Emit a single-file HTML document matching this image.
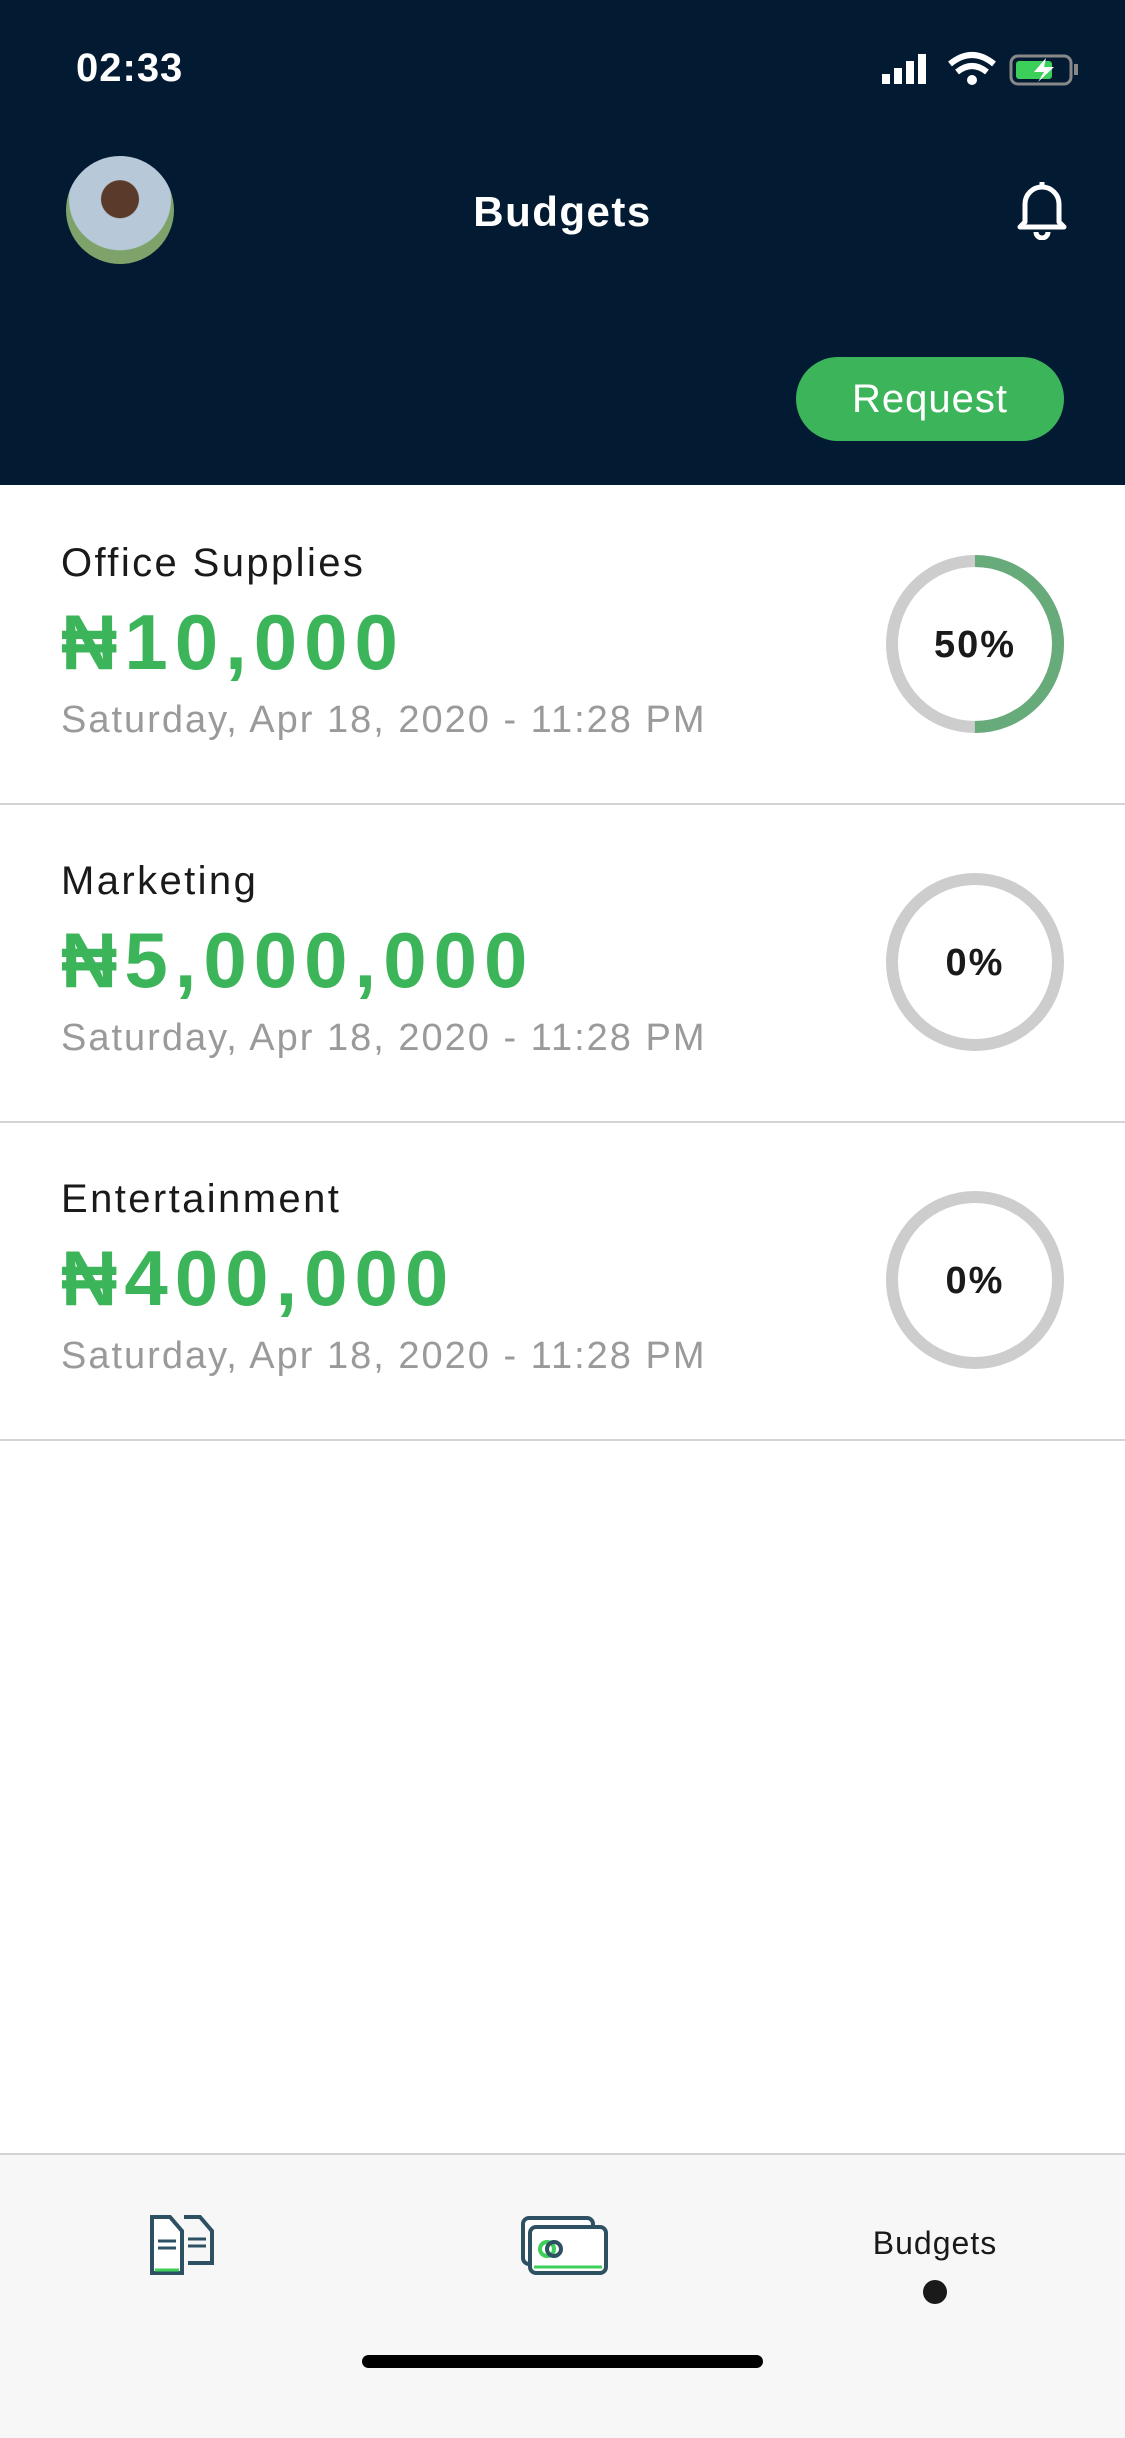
<!DOCTYPE html>
<html><head><meta charset="utf-8">
<style>
body{margin:0;width:1125px;height:2436px;background:#fff;font-family:"Liberation Sans",sans-serif;position:relative;overflow:hidden}
.abs{position:absolute}
#hdr{left:0;top:0;width:1125px;height:485px;background:#031a33}
.row{left:0;width:1125px;height:318px;border-bottom:2px solid #d4d4d4}
.t{left:61px;font-size:40px;color:#1a1a1a;letter-spacing:2.4px}
.amt{left:61px;font-size:78px;font-weight:bold;color:#3cb55a;letter-spacing:7px}
.dt{left:61px;font-size:38px;color:#9a9a9a;letter-spacing:2px}
</style></head><body>
<div id="hdr" class="abs">
<div class="abs" style="left:76px;top:46px;font-size:40px;color:#fff;font-weight:bold;letter-spacing:1px">02:33</div>
<svg class="abs" style="left:878px;top:48px" width="205" height="40">
<rect x="4" y="26" width="8" height="10" fill="#fff"/><rect x="16" y="20" width="8" height="16" fill="#fff"/><rect x="28" y="13" width="8" height="23" fill="#fff"/><rect x="40" y="6" width="8" height="30" fill="#fff"/>
<path d="M72 16 Q94 -2 116 16" stroke="#fff" stroke-width="6" fill="none"/><path d="M79 24 Q94 12 109 24" stroke="#fff" stroke-width="6" fill="none"/><circle cx="94" cy="32" r="5" fill="#fff"/>
<rect x="133" y="8" width="60" height="28" rx="7" fill="none" stroke="#888" stroke-width="3"/><rect x="138" y="13" width="36" height="18" rx="3" fill="#3cd05a"/><rect x="196" y="16" width="4" height="11" fill="#888"/>
<path d="M168 10 L156 24 H166 L160 34 L176 19 H166 Z" fill="#fff"/></svg>
<div class="abs" style="left:66px;top:156px;width:108px;height:108px;border-radius:54px;background:radial-gradient(circle at 50% 40%,#5a3a2a 0 22%,#b7c9d8 23% 60%,#7ea36a 61%)"></div>
<div class="abs" style="left:0;width:1125px;top:188px;text-align:center;font-size:42px;font-weight:bold;color:#fff;letter-spacing:1.5px">Budgets</div>
<svg class="abs" style="left:1015px;top:178px" width="54" height="62"><path d="M10 44 V26 A17 17 0 0 1 44 26 V44 L49 49 H5 Z" fill="none" stroke="#fff" stroke-width="5" stroke-linejoin="round"/><path d="M21 54 A6 6 0 0 0 33 54" stroke="#fff" stroke-width="5" fill="none"/><line x1="27" y1="4" x2="27" y2="10" stroke="#fff" stroke-width="5"/></svg>
<div class="abs" style="left:796px;top:357px;width:268px;height:84px;border-radius:42px;background:#3cb55a;color:#fff;font-size:40px;text-align:center;line-height:84px;letter-spacing:1px">Request</div>
</div>
<div id="rows"></div>
<div class="abs" style="left:0;top:2153px;width:1125px;height:283px;background:#f7f7f7;border-top:2px solid #d4d4d4">
<svg class="abs" style="left:148px;top:58px" width="80" height="66"><path d="M36 4 H52 L64 18 V50 H40" fill="none" stroke="#2d5163" stroke-width="4"/><path d="M4 4 H22 L34 18 V60 H4 Z" fill="#fff" stroke="#2d5163" stroke-width="4"/><line x1="7" y1="57" x2="31" y2="57" stroke="#3cd05a" stroke-width="3"/><line x1="10" y1="28" x2="28" y2="28" stroke="#2d5163" stroke-width="3"/><line x1="10" y1="35" x2="28" y2="35" stroke="#2d5163" stroke-width="3"/><line x1="40" y1="26" x2="58" y2="26" stroke="#2d5163" stroke-width="3"/><line x1="40" y1="33" x2="58" y2="33" stroke="#2d5163" stroke-width="3"/></svg>
<svg class="abs" style="left:520px;top:60px" width="90" height="62"><rect x="3" y="3" width="70" height="46" rx="6" fill="#fff" stroke="#2d5163" stroke-width="4"/><rect x="10" y="12" width="76" height="46" rx="6" fill="#fff" stroke="#2d5163" stroke-width="4"/><circle cx="27" cy="34" r="7" fill="none" stroke="#3cd05a" stroke-width="4"/><circle cx="34" cy="34" r="7" fill="none" stroke="#2d5163" stroke-width="4"/><line x1="14" y1="52" x2="82" y2="52" stroke="#3cd05a" stroke-width="3"/></svg>
<div class="abs" style="left:835px;top:70px;width:200px;text-align:center;font-size:32px;color:#1a1a1a;letter-spacing:1px">Budgets</div>
<div class="abs" style="left:923px;top:125px;width:24px;height:24px;border-radius:12px;background:#1a1a1a"></div>
<div class="abs" style="left:362px;top:200px;width:401px;height:13px;border-radius:7px;background:#000"></div>
</div>
<script>
const categories=["Office Supplies","Marketing","Entertainment"];
const amounts=["₦10,000","₦5,000,000","₦400,000"];
const dates=["Saturday, Apr 18, 2020 - 11:28 PM","Saturday, Apr 18, 2020 - 11:28 PM","Saturday, Apr 18, 2020 - 11:28 PM"];
const percents=[50,0,0];
const rows=document.getElementById('rows');
const R=83,C=2*Math.PI*R;
categories.forEach((c,i)=>{
 const top=485+i*318;
 const d=document.createElement('div');
 d.className='abs row';d.style.top=top+'px';
 
 
 const off=C*(1-percents[i]/100);
 d.innerHTML=`<div class="abs t" style="top:56px">${c}</div>
<div class="abs amt" style="top:112px">${amounts[i]}</div>
<div class="abs dt" style="top:214px">${dates[i]}</div>
<svg class="abs" style="left:880px;top:64px" width="190" height="190">
<circle cx="95" cy="95" r="${R}" fill="none" stroke="#cdcdcd" stroke-width="12"/>
<circle cx="95" cy="95" r="${R}" fill="none" stroke="#68ab7b" stroke-width="12" stroke-dasharray="${C}" stroke-dashoffset="${off}" transform="rotate(-90 95 95)"/>
<text x="95" y="108" text-anchor="middle" font-family="Liberation Sans" font-weight="bold" font-size="38" letter-spacing="2" fill="#1a1a1a">${percents[i]}%</text></svg>`;
 rows.appendChild(d);
});
</script>
</body></html>
